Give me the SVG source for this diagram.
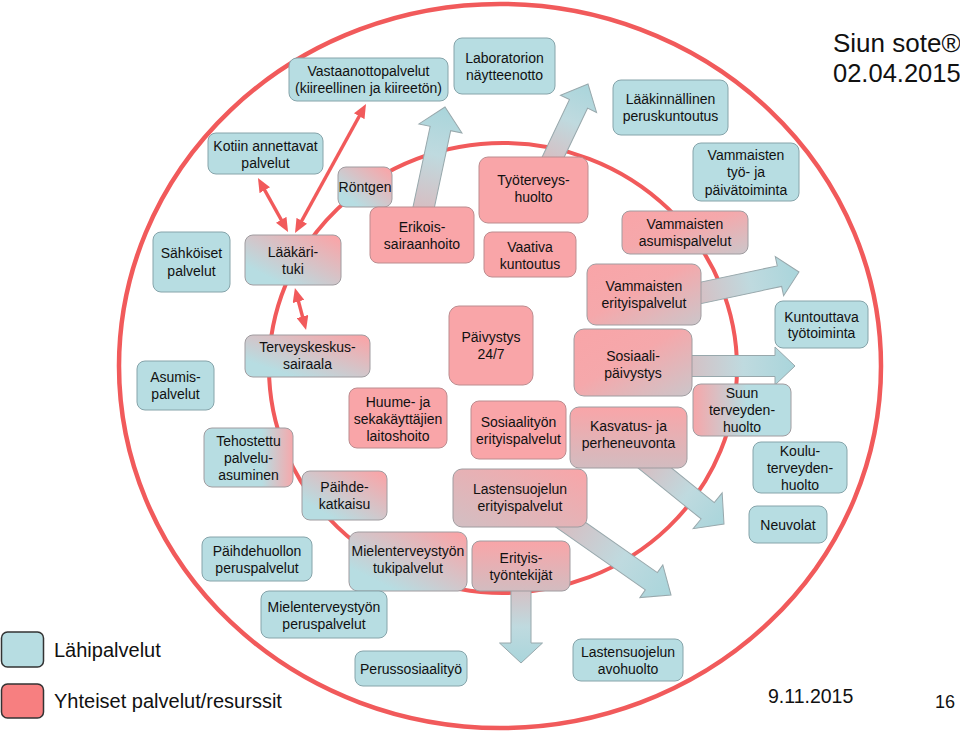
<svg xmlns="http://www.w3.org/2000/svg" width="960" height="734" viewBox="0 0 960 734">
<defs>
<style>
.t{font-family:"Liberation Sans",Arial,sans-serif;font-size:14px;fill:#111;text-anchor:middle}
.b{fill:#B7DDE2;stroke:#86A4AA;stroke-width:1}
.p{fill:#F9A5A8;stroke:#BC8C8F;stroke-width:1}
.g{stroke:#A09CA0;stroke-width:1}
.ring{fill:none;stroke:#F15A5B}
.dbl{stroke:#F15A5B;stroke-width:3.5;fill:none;marker-start:url(#ah);marker-end:url(#ah)}
.blk{fill:url(#gArrow);stroke:#98A8AC;stroke-width:1}
.big{font-family:"Liberation Sans",Arial,sans-serif;fill:#111}
</style>
<marker id="ah" viewBox="0 0 14 12" refX="2" refY="6" markerWidth="14" markerHeight="12" markerUnits="userSpaceOnUse" orient="auto-start-reverse">
<path d="M0,0 L14,6 L0,12 z" fill="#F15A5B"/>
</marker>
<linearGradient id="gArrow" x1="0" y1="0" x2="1" y2="0">
<stop offset="0" stop-color="#D8BCC0"/>
<stop offset="0.55" stop-color="#BFDADF"/>
<stop offset="1" stop-color="#A9D5DB"/>
</linearGradient>
<linearGradient id="gBP" x1="0" y1="1" x2="1" y2="0">
<stop offset="0" stop-color="#B7DDE2"/>
<stop offset="0.2" stop-color="#B7DDE2"/>
<stop offset="0.95" stop-color="#F9A5A8"/>
</linearGradient>
<linearGradient id="gBP2" x1="0" y1="0" x2="1" y2="0">
<stop offset="0" stop-color="#B7DDE2"/>
<stop offset="0.65" stop-color="#B7DDE2"/>
<stop offset="1" stop-color="#F6A8AB"/>
</linearGradient>
<linearGradient id="gPB" x1="0" y1="0" x2="1" y2="0">
<stop offset="0" stop-color="#F6A6A9"/>
<stop offset="0.55" stop-color="#B7DDE2"/>
<stop offset="1" stop-color="#B7DDE2"/>
</linearGradient>
<linearGradient id="gPG" x1="0" y1="0" x2="1" y2="1">
<stop offset="0" stop-color="#F9A5A8"/>
<stop offset="0.45" stop-color="#F5A8AB"/>
<stop offset="1" stop-color="#CBC6CA"/>
</linearGradient>
<linearGradient id="gPGv" x1="0" y1="0" x2="0" y2="1">
<stop offset="0" stop-color="#F9A5A8"/>
<stop offset="1" stop-color="#D2BCC0"/>
</linearGradient>
<linearGradient id="gGP" x1="0" y1="1" x2="1" y2="0">
<stop offset="0" stop-color="#D2BFC3"/>
<stop offset="1" stop-color="#F9A5A8"/>
</linearGradient>
</defs>

<rect width="960" height="734" fill="#FFFFFF"/>

<g id="rings">
<ellipse class="ring" cx="500" cy="366" rx="381" ry="362" stroke-width="4.5"/>
<ellipse class="ring" cx="503" cy="368" rx="234" ry="225" stroke-width="4"/>
</g>

<g id="connectors">
<polygon class="blk" transform="translate(445,107) rotate(-78)" points="0,0 -22,-22 -22,-10.5 -108,-10.5 -108,10.5 -22,10.5 -22,22"/>
<polygon class="blk" transform="translate(588,84) rotate(-64.5)" points="0,0 -22,-20 -22,-10 -90,-10 -90,10 -22,10 -22,20"/>
<polygon class="blk" transform="translate(799,272) rotate(-12)" points="0,0 -20,-20 -20,-10.5 -110,-10.5 -110,10.5 -20,10.5 -20,20"/>
<polygon class="blk" transform="translate(795,366)" points="0,0 -20,-19 -20,-10.5 -115,-10.5 -115,10.5 -20,10.5 -20,19"/>
<polygon class="blk" transform="translate(724,524) rotate(39)" points="0,0 -21,-23 -21,-10.5 -105,-10.5 -105,10.5 -21,10.5 -21,23"/>
<polygon class="blk" transform="translate(671,595) rotate(35)" points="0,0 -24,-20 -24,-10.5 -135,-10.5 -135,10.5 -24,10.5 -24,20"/>
<polygon class="blk" transform="translate(521,663) rotate(90)" points="0,0 -20,-21.5 -20,-10 -80,-10 -80,10 -20,10 -20,21.5"/>
<line class="dbl" x1="263.8" y1="188.5" x2="282.2" y2="221.5"/>
<line class="dbl" x1="360.2" y1="114.5" x2="300.8" y2="222.5"/>
<line class="dbl" x1="298" y1="299.6" x2="303" y2="318.4"/>
</g>

<g id="vastaanotto"><rect class="b" x="289" y="58" width="159" height="43" rx="8"/><text class="t"><tspan x="368.5" y="76">Vastaanottopalvelut</tspan><tspan x="368.5" y="93">(kiireellinen ja kiireetön)</tspan></text></g>
<g id="laboratorio"><rect class="b" x="454" y="38" width="101" height="56" rx="8"/><text class="t"><tspan x="504.5" y="62.5">Laboratorion</tspan><tspan x="504.5" y="79.5">näytteenotto</tspan></text></g>
<g id="kotiin"><rect class="b" x="208" y="133" width="115" height="41" rx="8"/><text class="t"><tspan x="265.5" y="150.5">Kotiin annettavat</tspan><tspan x="265.5" y="167.5">palvelut</tspan></text></g>
<g id="rontgen"><rect class="g" fill="url(#gBP)" x="338" y="167" width="54" height="40" rx="8"/><text class="t" x="365" y="192">Röntgen</text></g>
<g id="erikois"><rect class="p" x="370" y="207" width="104" height="56" rx="8"/><text class="t"><tspan x="422" y="232">Erikois-</tspan><tspan x="422" y="249">sairaanhoito</tspan></text></g>
<g id="tyoterveys"><rect class="p" x="479" y="157" width="109" height="66" rx="9"/><text class="t"><tspan x="533.5" y="184.5">Työterveys-</tspan><tspan x="533.5" y="201.5">huolto</tspan></text></g>
<g id="vaativa"><rect class="p" x="484" y="232" width="92" height="45" rx="8"/><text class="t"><tspan x="530" y="251.5">Vaativa</tspan><tspan x="530" y="268.5">kuntoutus</tspan></text></g>
<g id="laakinnallinen"><rect class="b" x="613" y="80" width="115" height="55" rx="8"/><text class="t"><tspan x="670.5" y="104">Lääkinnällinen</tspan><tspan x="670.5" y="121">peruskuntoutus</tspan></text></g>
<g id="vammaisten-tyo"><rect class="b" x="693" y="143" width="106" height="58" rx="8"/><text class="t"><tspan x="746" y="160">Vammaisten</tspan><tspan x="746" y="177">työ- ja</tspan><tspan x="746" y="194.5">päivätoiminta</tspan></text></g>
<g id="vammaisten-asumis"><rect class="g" fill="url(#gPG)" x="622" y="211" width="126" height="43" rx="8"/><text class="t"><tspan x="685" y="228.5">Vammaisten</tspan><tspan x="685" y="245.5">asumispalvelut</tspan></text></g>
<g id="sahkoiset"><rect class="b" x="153" y="232" width="77" height="60" rx="8"/><text class="t"><tspan x="191.5" y="258">Sähköiset</tspan><tspan x="191.5" y="275.5">palvelut</tspan></text></g>
<g id="laakarituki"><rect class="g" fill="url(#gBP)" x="245" y="235" width="96" height="50" rx="8"/><text class="t"><tspan x="293" y="257">Lääkäri-</tspan><tspan x="293" y="274">tuki</tspan></text></g>
<g id="vammaisten-erityis"><rect class="g" fill="url(#gPG)" x="587" y="264" width="114" height="61" rx="9"/><text class="t"><tspan x="644" y="290.5">Vammaisten</tspan><tspan x="644" y="307.5">erityispalvelut</tspan></text></g>
<g id="paivystys"><rect class="p" x="449" y="306" width="84" height="79" rx="10"/><text class="t"><tspan x="491" y="342">Päivystys</tspan><tspan x="491" y="359">24/7</tspan></text></g>
<g id="kuntouttava"><rect class="b" x="775" y="301" width="93" height="47" rx="8"/><text class="t"><tspan x="821.5" y="321.5">Kuntouttava</tspan><tspan x="821.5" y="338">työtoiminta</tspan></text></g>
<g id="terveyskeskus"><rect class="g" fill="url(#gBP)" x="245" y="335" width="125" height="42" rx="8"/><text class="t"><tspan x="307.5" y="352">Terveyskeskus-</tspan><tspan x="307.5" y="369">sairaala</tspan></text></g>
<g id="sosiaalipaivystys"><rect class="g" fill="url(#gPG)" x="574" y="329" width="118" height="67" rx="10"/><text class="t"><tspan x="633" y="360.5">Sosiaali-</tspan><tspan x="633" y="377.5">päivystys</tspan></text></g>
<g id="asumis"><rect class="b" x="137" y="361" width="77" height="49" rx="8"/><text class="t"><tspan x="175.5" y="382">Asumis-</tspan><tspan x="175.5" y="399">palvelut</tspan></text></g>
<g id="huume"><rect class="p" x="349" y="388" width="98" height="60" rx="8"/><text class="t"><tspan x="398" y="407">Huume- ja</tspan><tspan x="398" y="424">sekakäyttäjien</tspan><tspan x="398" y="441">laitoshoito</tspan></text></g>
<g id="suun"><rect class="g" fill="url(#gPB)" x="693" y="384" width="98" height="52" rx="8"/><text class="t"><tspan x="742" y="398">Suun</tspan><tspan x="742" y="415">terveyden-</tspan><tspan x="742" y="432">huolto</tspan></text></g>
<g id="sosiaalityon"><rect class="p" x="471" y="401" width="95" height="58" rx="8"/><text class="t"><tspan x="518.5" y="426.5">Sosiaalityön</tspan><tspan x="518.5" y="443.5">erityispalvelut</tspan></text></g>
<g id="kasvatus"><rect class="g" fill="url(#gPGv)" x="570" y="407" width="117" height="61" rx="9"/><text class="t"><tspan x="628.5" y="431">Kasvatus- ja</tspan><tspan x="628.5" y="448">perheneuvonta</tspan></text></g>
<g id="tehostettu"><rect class="g" fill="url(#gBP2)" x="204" y="428" width="89" height="59" rx="8"/><text class="t"><tspan x="248.5" y="446">Tehostettu</tspan><tspan x="248.5" y="463">palvelu-</tspan><tspan x="248.5" y="480">asuminen</tspan></text></g>
<g id="kouluterveys"><rect class="b" x="753" y="442" width="94" height="51" rx="8"/><text class="t"><tspan x="800" y="455.5">Koulu-</tspan><tspan x="800" y="472.5">terveyden-</tspan><tspan x="800" y="489.5">huolto</tspan></text></g>
<g id="paihdekatkaisu"><rect class="g" fill="url(#gBP)" x="302" y="471" width="85" height="49" rx="8"/><text class="t"><tspan x="344.5" y="492">Päihde-</tspan><tspan x="344.5" y="509">katkaisu</tspan></text></g>
<g id="lastensuojelu-erityis"><rect class="g" fill="url(#gGP)" x="453" y="469" width="134" height="58" rx="9"/><text class="t"><tspan x="520" y="493.5">Lastensuojelun</tspan><tspan x="520" y="510.5">erityispalvelut</tspan></text></g>
<g id="neuvolat"><rect class="b" x="749" y="506" width="78" height="37" rx="8"/><text class="t" x="788" y="530">Neuvolat</text></g>
<g id="paihdehuolto"><rect class="b" x="202" y="537" width="110" height="44" rx="8"/><text class="t"><tspan x="257" y="555.5">Päihdehuollon</tspan><tspan x="257" y="572.5">peruspalvelut</tspan></text></g>
<g id="mielenterveys-tuki"><rect class="g" fill="url(#gBP)" x="349" y="532" width="118" height="59" rx="9"/><text class="t"><tspan x="408" y="555.5">Mielenterveystyön</tspan><tspan x="408" y="572.5">tukipalvelut</tspan></text></g>
<g id="erityistyontekijat"><rect class="g" fill="url(#gPGv)" x="472" y="541" width="98" height="50" rx="8"/><text class="t"><tspan x="521" y="563">Erityis-</tspan><tspan x="521" y="580">työntekijät</tspan></text></g>
<g id="mielenterveys-perus"><rect class="b" x="261" y="591" width="126" height="47" rx="8"/><text class="t"><tspan x="324" y="611.5">Mielenterveystyön</tspan><tspan x="324" y="628.5">peruspalvelut</tspan></text></g>
<g id="perussosiaalityo"><rect class="b" x="355" y="651" width="112" height="35" rx="8"/><text class="t" x="411" y="674">Perussosiaalityö</text></g>
<g id="lastensuojelu-avo"><rect class="b" x="573" y="639" width="110" height="42" rx="8"/><text class="t"><tspan x="628" y="656.5">Lastensuojelun</tspan><tspan x="628" y="673.5">avohuolto</tspan></text></g>

<g id="legend">
<rect x="1.5" y="632" width="42" height="35" rx="6" fill="#B7DDE2" stroke="#333" stroke-width="1.5"/>
<text class="big" x="54" y="657" font-size="20">Lähipalvelut</text>
<rect x="1.5" y="684" width="42" height="34" rx="6" fill="#F77F80" stroke="#333" stroke-width="1.5"/>
<text class="big" x="54" y="708" font-size="20">Yhteiset palvelut/resurssit</text>
</g>

<g id="titles">
<text class="big" x="833" y="52" font-size="26">Siun sote®</text>
<text class="big" x="833" y="82" font-size="25.5">02.04.2015</text>
<text class="big" x="768" y="703" font-size="19.5">9.11.2015</text>
<text class="big" x="935" y="708" font-size="18">16</text>
</g>
</svg>
